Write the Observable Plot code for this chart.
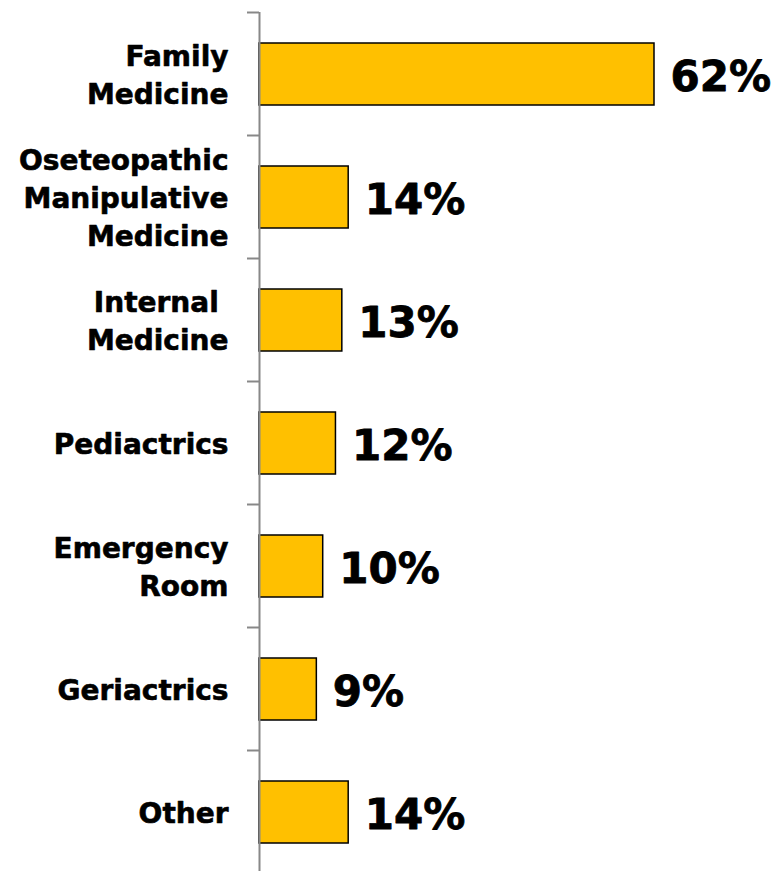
<!DOCTYPE html>
<html>
<head>
<meta charset="utf-8">
<script src="https://cdn.jsdelivr.net/npm/d3@7"></script>
<script src="https://cdn.jsdelivr.net/npm/@observablehq/plot@0.6"></script>
<style>
  html, body { margin: 0; padding: 0; background: #fff; }
  #chart svg { display: block; }
</style>
</head>
<body>
<div id="chart"></div>
<script>
const categories = ["Family\nMedicine", "Oseteopathic\nManipulative\nMedicine", "Internal\u00a0\nMedicine", "Pediactrics", "Emergency\nRoom", "Geriactrics", "Other"];
const values = [62, 14, 13, 12, 10, 9, 14];
const valueLabels = ["62%", "14%", "13%", "12%", "10%", "9%", "14%"];

const data = categories.map((c, i) => ({category: c, value: values[i], label: valueLabels[i]}));

const W = 777, H = 871;
const yTop = 12, yBottom = 873;
const band = (yBottom - yTop) / categories.length;
const font = "'DejaVu Sans', Verdana, sans-serif";

const chart = Plot.plot({
  width: W,
  height: H,
  marginLeft: 247,
  marginRight: 0,
  marginTop: yTop,
  marginBottom: 0,
  style: {fontFamily: font, background: "#fff"},
  x: {domain: [0, 62], range: [259, 654], axis: null},
  y: {domain: categories, range: [yTop, yBottom], padding: 0, axis: null},
  marks: [
    Plot.barX(data, {
      y: "category", x: "value",
      fill: "#FFC000", stroke: "#000", strokeWidth: 1.5,
      insetTop: 31, insetBottom: 30
    }),
    Plot.ruleX([0], {stroke: "#888", strokeWidth: 2}),
    Plot.ruleY(categories, {y: d => d, x1: 0, x2: 0, insetLeft: -12, stroke: "#888", strokeWidth: 2, dy: -band / 2}),
    Plot.text(data, {
      y: "category", x: 0, text: "category",
      textAnchor: "end", dx: -31, dy: -1,
      fontSize: 28, fontWeight: "bold", lineHeight: 1.35, fill: "#000",
      stroke: "#000", strokeWidth: 0.6
    }),
    Plot.text(data, {
      y: "category", x: "value", text: "label",
      textAnchor: "start", dx: 16, dy: 4,
      fontSize: 42, fontWeight: "bold", fill: "#000",
      stroke: "#000", strokeWidth: 0.8
    })
  ]
});

document.getElementById("chart").appendChild(chart);
</script>
</body>
</html>
